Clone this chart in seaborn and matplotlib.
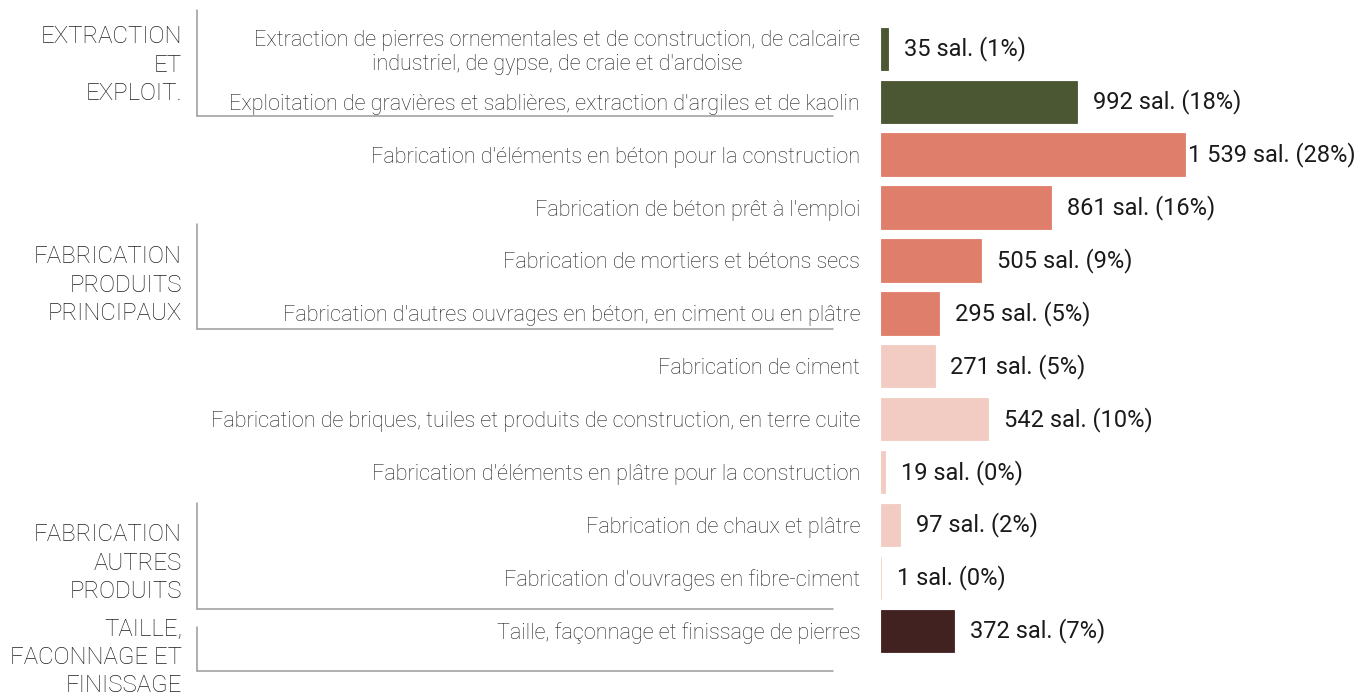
import matplotlib
matplotlib.use("Agg")
import matplotlib.pyplot as plt
import seaborn as sns
import pandas as pd

categories = [
    "Extraction de pierres ornementales et de construction, de calcaire\nindustriel, de gypse, de craie et d'ardoise",
    "Exploitation de gravières et sablières, extraction d'argiles et de kaolin",
    "Fabrication d'éléments en béton pour la construction",
    "Fabrication de béton prêt à l'emploi",
    "Fabrication de mortiers et bétons secs",
    "Fabrication d'autres ouvrages en béton, en ciment ou en plâtre",
    "Fabrication de ciment",
    "Fabrication de briques, tuiles et produits de construction, en terre cuite",
    "Fabrication d'éléments en plâtre pour la construction",
    "Fabrication de chaux et plâtre",
    "Fabrication d'ouvrages en fibre-ciment",
    "Taille, façonnage et finissage de pierres",
]
values = [35, 992, 1539, 861, 505, 295, 271, 542, 19, 97, 1, 372]
labels = ["35 sal. (1%)", "992 sal. (18%)", "1 539 sal. (28%)", "861 sal. (16%)",
          "505 sal. (9%)", "295 sal. (5%)", "271 sal. (5%)", "542 sal. (10%)",
          "19 sal. (0%)", "97 sal. (2%)", "1 sal. (0%)", "372 sal. (7%)"]
colors = ["#4b5632", "#4b5632", "#df7e6a", "#df7e6a", "#df7e6a", "#df7e6a",
          "#f2ccc2", "#f2ccc2", "#f2ccc2", "#f2ccc2", "#f2ccc2", "#412220"]
group_names = ["EXTRACTION\nET\nEXPLOIT.", "FABRICATION\nPRODUITS\nPRINCIPAUX",
               "FABRICATION\nAUTRES\nPRODUITS", "TAILLE,\nFACONNAGE ET\nFINISSAGE"]

W, H = 1358, 697
sns.set_theme(style="white")
plt.rcParams['font.family'] = ['Roboto', 'DejaVu Sans']

fig = plt.figure(figsize=(W / 100, H / 100), dpi=100)
ax = fig.add_axes([881 / W, 1 - 657.3 / H, 1 - 881 / W, (657.3 - 22.3) / H])

df = pd.DataFrame({"cat": categories, "val": values})
sns.barplot(data=df, x="val", y="cat", hue="cat", palette=colors, legend=False,
            orient="h", width=0.8, ax=ax, saturation=1)
for p in ax.patches:
    p.set_edgecolor(p.get_facecolor())
    p.set_linewidth(0.6)
ax.set_xlim(0, 2415)
ax.set_ylim(11.5, -0.5)
for s in ax.spines.values():
    s.set_visible(False)
ax.set_xlabel("")
ax.set_ylabel("")
ax.set_xticks([])
ax.tick_params(axis="y", length=0, pad=15)
for t in ax.get_yticklabels():
    t.set_fontsize(15.6)
    t.set_fontweight("light")
    t.set_color("#222222")
    t.set_multialignment("center")
    t.set_linespacing(1.2)

# value labels
fig.canvas.draw()
renderer = fig.canvas.get_renderer()
for i, (v, lab) in enumerate(zip(values, labels)):
    t = ax.annotate(lab, xy=(v, i), xytext=(11.5, 0), textcoords="offset points",
                    va="center", ha="left", fontsize=17, color="#1a1a1a")
    bb = t.get_window_extent(renderer)
    if bb.x1 > W - 1:
        t.remove()
        ax.annotate(lab, xy=(1, i), xycoords=("axes fraction", "data"),
                    xytext=(-1.5, 0), textcoords="offset points",
                    va="center", ha="right", fontsize=17, color="#1a1a1a")

# group brackets (figure pixel coords)
brackets = [(10, 115.7), (224, 329), (503, 609), (627, 670.7)]
label_y = [65, 285, 563, 657]
xv, xh = 196.5, 833
for (y0, y1), name, ly in zip(brackets, group_names, label_y):
    fig.add_artist(plt.Line2D([xv / W, xv / W], [1 - y0 / H, 1 - y1 / H],
                              color="#9a9a9a", lw=1.1))
    fig.add_artist(plt.Line2D([xv / W, xh / W], [1 - y1 / H, 1 - y1 / H],
                              color="#9a9a9a", lw=1.1))
    fig.text(182 / W, 1 - ly / H, name, ha="right", va="center",
             multialignment="right", fontsize=17.3, color="#1e1e1e",
             linespacing=1.28, fontweight="light")

fig.savefig("out.png", dpi=100)
